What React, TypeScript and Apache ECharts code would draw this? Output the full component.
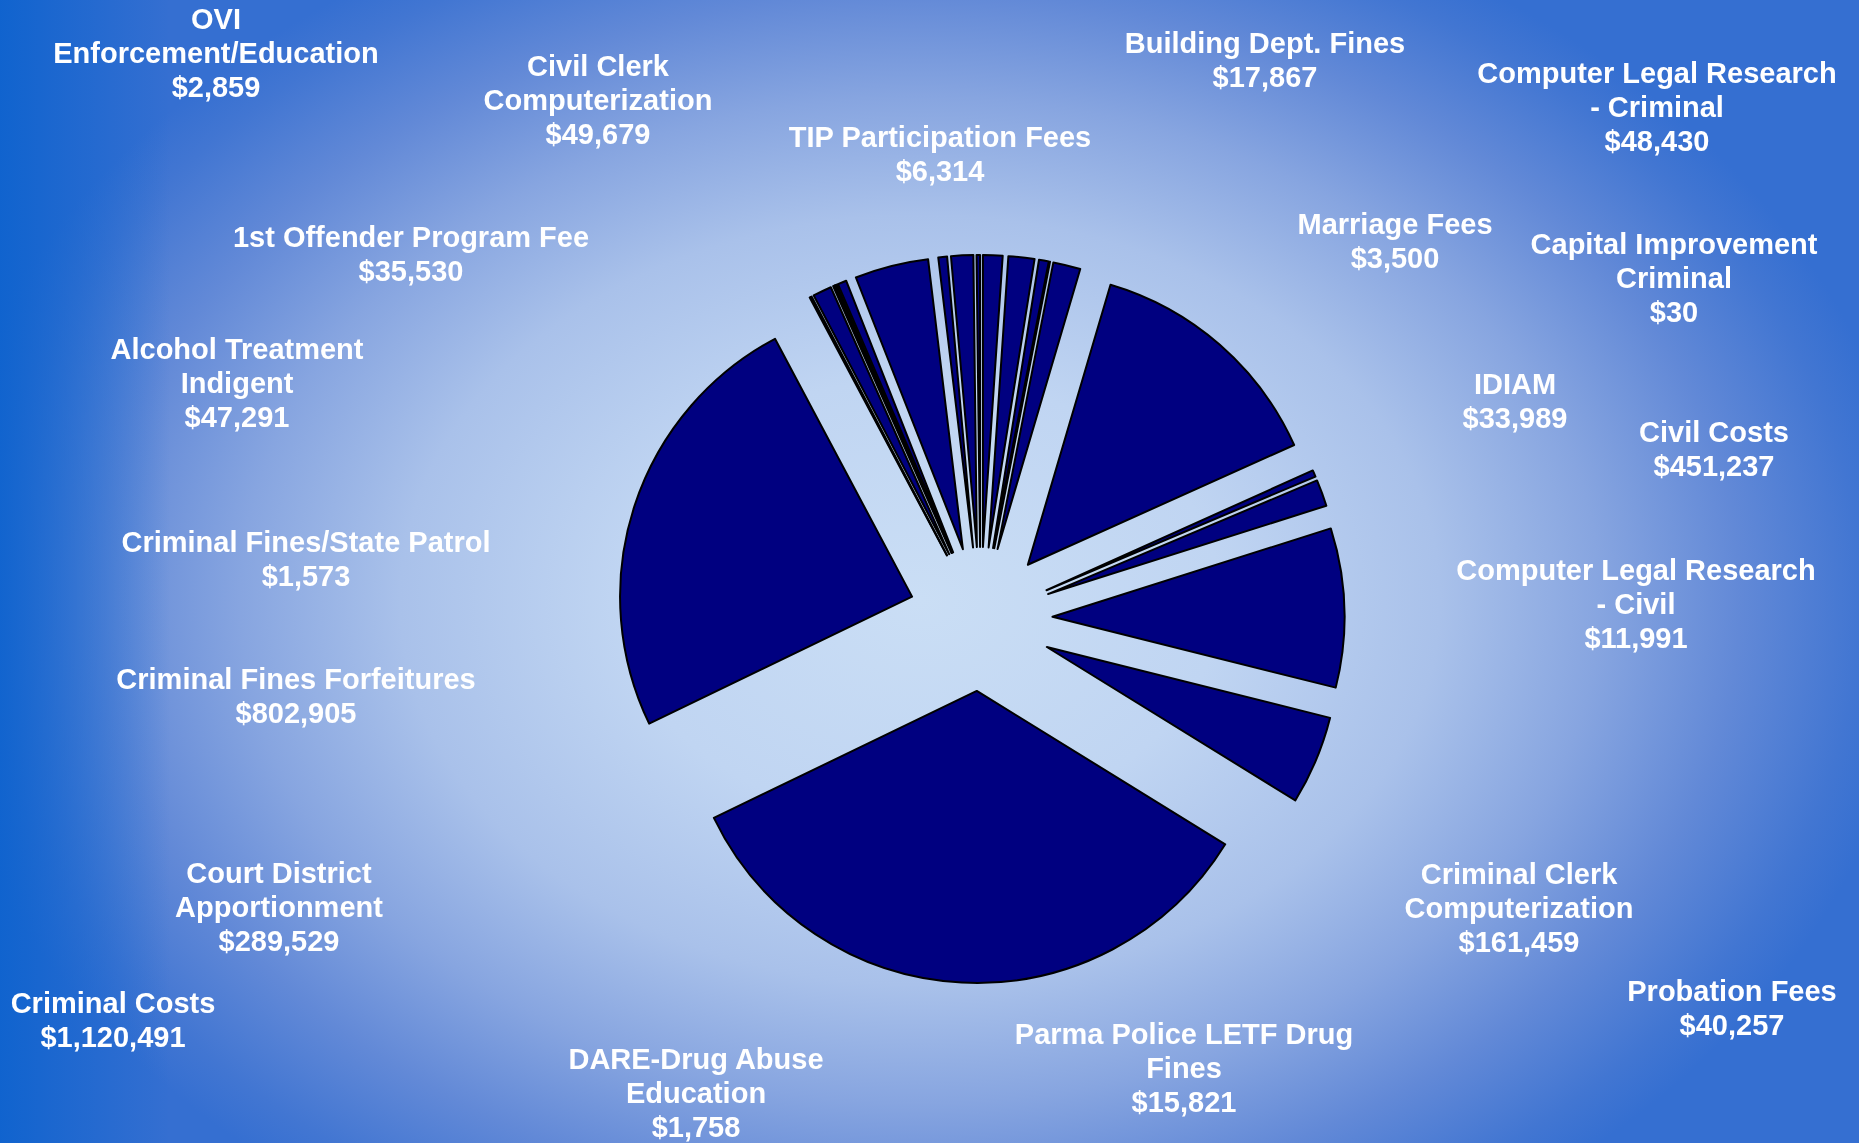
import React, { useEffect, useRef } from "react";
import * as echarts from "echarts";

// Slices in data order (alphabetical, clockwise from 12 o'clock)
const categories = [
  "1st Offender Program Fee",
  "Alcohol Treatment Indigent",
  "Building Dept. Fines",
  "Capital Improvement Criminal",
  "Civil Clerk Computerization",
  "Civil Costs",
  "Computer Legal Research - Civil",
  "Computer Legal Research - Criminal",
  "Court District Apportionment",
  "Criminal Clerk Computerization",
  "Criminal Costs",
  "Criminal Fines Forfeitures",
  "Criminal Fines/State Patrol",
  "DARE-Drug Abuse Education",
  "IDIAM",
  "Marriage Fees",
  "OVI Enforcement/Education",
  "Parma Police LETF Drug Fines",
  "Unlabeled slice 1",
  "Unlabeled slice 2",
  "Probation Fees",
  "TIP Participation Fees",
];

const values = [
  35530, 47291, 17867, 30, 49679, 451237, 11991, 48430, 289529, 161459,
  1120491, 802905, 1573, 1758, 33989, 3500, 2859, 15821, 134000, 16000,
  40257, 6314,
];

// label text as wrapped in the picture (null = no label)
const wrappedNames: (string | null)[] = [
  "1st Offender Program Fee",
  "Alcohol Treatment\nIndigent",
  "Building Dept. Fines",
  "Capital Improvement\nCriminal",
  "Civil Clerk\nComputerization",
  "Civil Costs",
  "Computer Legal Research\n- Civil",
  "Computer Legal Research\n- Criminal",
  "Court District\nApportionment",
  "Criminal Clerk\nComputerization",
  "Criminal Costs",
  "Criminal Fines Forfeitures",
  "Criminal Fines/State Patrol",
  "DARE-Drug Abuse\nEducation",
  "IDIAM",
  "Marriage Fees",
  "OVI\nEnforcement/Education",
  "Parma Police LETF Drug\nFines",
  null,
  null,
  "Probation Fees",
  "TIP Participation Fees",
];

// label anchor: [center x, top y] in px
const labelAnchors: ([number, number] | null)[] = [
  [411, 220],
  [237, 332],
  [1265, 26],
  [1674, 227],
  [598, 49],
  [1714, 415],
  [1636, 553],
  [1657, 56],
  [279, 856],
  [1519, 857],
  [113, 986],
  [296, 662],
  [306, 525],
  [696, 1042],
  [1515, 367],
  [1395, 207],
  [216, 2],
  [1184, 1017],
  null,
  null,
  [1732, 974],
  [940, 120],
];

const NAVY = "#000080";

export default function App() {
  const ref = useRef<HTMLDivElement>(null);

  useEffect(() => {
    document.body.style.margin = "0";
    const chart = echarts.init(ref.current!, null, {
      renderer: "svg",
      width: 1859,
      height: 1143,
    });
    const fmt = (v: number) => "$" + v.toLocaleString("en-US");

    const texts: any[] = [];
    categories.forEach((_, i) => {
      const a = labelAnchors[i];
      const w = wrappedNames[i];
      if (!a || !w) return;
      texts.push({
        type: "text",
        x: a[0],
        y: a[1],
        z: 10,
        silent: true,
        style: {
          text: w + "\n" + fmt(values[i]),
          fill: "#ffffff",
          fontSize: 29,
          fontWeight: "bold",
          fontFamily: "'Liberation Sans', Arial, sans-serif",
          align: "center",
          textAlign: "center",
          verticalAlign: "top",
          textVerticalAlign: "top",
          lineHeight: 34,
        },
      });
    });

    const itemStyle = {
      color: NAVY,
      borderColor: "#000000",
      borderWidth: 2,
    };

    chart.setOption({
      animation: false,
      backgroundColor: "transparent",
      graphic: { elements: texts },
      series: [
        {
          type: "pie",
          center: [980.5, 619],
          radius: [0, 292],
          startAngle: 90,
          clockwise: true,
          silent: true,
          selectedMode: "multiple",
          selectedOffset: 72,
          label: { show: false },
          labelLine: { show: false },
          itemStyle,
          select: { itemStyle },
          emphasis: { disabled: true },
          data: categories.map((name, i) => ({
            name,
            value: values[i],
            selected: true,
          })),
        },
      ],
    });
    return () => chart.dispose();
  }, []);

  return (
    <div
      ref={ref}
      style={{
        position: "fixed",
        left: 0,
        top: 0,
        width: 1859,
        height: 1143,
        background:
          "linear-gradient(to right, rgba(12,98,206,0.9) 0px, rgba(12,98,206,0) 170px), radial-gradient(ellipse 1000px 740px at 920px 600px, #cadef5 0%, #c0d5f2 30%, #a9c1ea 52%, #87a5e0 68%, #6289d7 82%, #4276d2 94%, #356fd1 100%)",
      }}
    />
  );
}
